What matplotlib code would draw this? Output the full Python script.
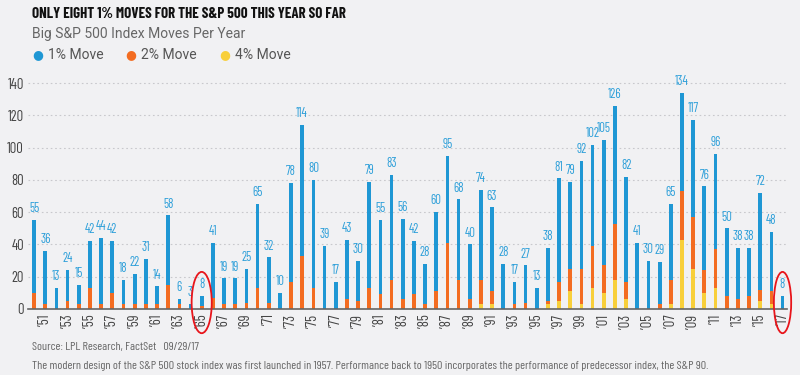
import numpy as np
import matplotlib
matplotlib.use('Agg')
import matplotlib.pyplot as plt
from matplotlib.patches import Ellipse

plt.rcParams['font.family'] = ['Barlow Condensed', 'DejaVu Sans']

# Datos: movimientos grandes del S&P 500 por año (1950-2017)
anios = np.arange(1950, 2018)
mov_1 = [55, 36, 13, 24, 15, 42, 44, 42, 18, 22, 31, 14, 58, 6, 3, 8, 41, 19, 19, 25,
         65, 32, 10, 78, 114, 80, 39, 17, 43, 30, 79, 55, 83, 56, 42, 28, 60, 95, 68, 40,
         74, 63, 28, 17, 27, 13, 38, 81, 79, 92, 102, 105, 126, 82, 41, 30, 29, 65, 134, 117,
         76, 96, 50, 38, 38, 72, 48, 8]
mov_2 = [10, 3, 0, 5, 3, 13, 3, 10, 3, 3, 3, 3, 15, 3, 0, 2, 7, 3, 3, 4,
         13, 4, 0, 17, 33, 13, 0, 0, 6, 5, 13, 9, 18, 6, 9, 3, 11, 41, 18, 6,
         18, 11, 0, 3, 4, 0, 5, 17, 25, 25, 39, 27, 53, 17, 0, 0, 3, 18, 73, 57,
         24, 37, 8, 6, 8, 12, 11, 0]
mov_4 = [0, 0, 0, 0, 0, 0, 0, 0, 0, 0, 0, 0, 0, 0, 0, 0, 0, 0, 0, 0,
         0, 0, 0, 0, 0, 0, 0, 0, 0, 0, 0, 0, 0, 0, 0, 0, 0, 0, 0, 0,
         3, 3, 0, 0, 0, 0, 3, 5, 11, 3, 13, 10, 18, 6, 0, 0, 0, 3, 43, 25,
         10, 13, 0, 0, 0, 5, 3, 0]
etiquetas = ["\u2019%02d" % (a % 100) for a in anios]

azul = '#1f97d4'
naranja = '#f36c21'
amarillo = '#f8cf3a'
fondo = '#f1f1f3'

fig = plt.figure(figsize=(8, 3.75), dpi=100, facecolor=fondo)
ax = fig.add_axes([28 / 800, 66 / 375, 759 / 800, 229 / 375], facecolor=fondo)

x = np.arange(len(anios))
ancho = 0.33
ax.bar(x, mov_1, width=ancho, color=azul, zorder=3)
ax.bar(x, mov_2, width=ancho, color=naranja, zorder=4)
ax.bar(x, mov_4, width=ancho, color=amarillo, zorder=5)

for xi, v in zip(x, mov_1):
    ax.text(xi, v + 3, str(v), ha='center', va='bottom', fontsize=9.2,
            color='#2d9fd9', zorder=6)

ax.set_xlim(-0.55, 67.4)
ax.set_ylim(0, 142)
ax.set_yticks(range(0, 141, 20))
ax.tick_params(axis='y', length=0, labelsize=10.5, labelcolor='#444444', pad=3)
ax.set_xticks(x[1::2])
ax.set_xticklabels(etiquetas[1::2], rotation=90, fontsize=10.5, color='#444444')
ax.tick_params(axis='x', length=0, pad=4)
ax.grid(axis='y', linestyle=(0, (1.5, 2.5)), color='#c8c8cc', linewidth=0.8, zorder=0)
for lado in ['top', 'right', 'left']:
    ax.spines[lado].set_visible(False)
ax.spines['bottom'].set_color('#666666')
ax.spines['bottom'].set_linewidth(1.2)
ax.spines['bottom'].set_zorder(7)

# Elipses rojas alrededor de 1965 y 2017
for idx, w in [(15, 1.8), (67, 1.55)]:
    ax.add_patch(Ellipse((idx, 4), w, 38, transform=ax.transData, fill=False,
                         edgecolor='#e8151b', linewidth=1.3, clip_on=False, zorder=8))

fig.text(32 / 800, 1 - 14 / 375, 'ONLY EIGHT 1% MOVES FOR THE S&P 500 THIS YEAR SO FAR',
         fontsize=10.8, fontweight='bold', color='#111111', va='center')
fig.text(32 / 800, 1 - 34 / 375, 'Big S&P 500 Index Moves Per Year',
         fontsize=10, color='#666666', va='center', family='Roboto')
for px, col, txt in [(38, azul, '1% Move'), (131, naranja, '2% Move'), (225, amarillo, '4% Move')]:
    fig.text(px / 800, 1 - 55 / 375, '\u25CF', fontsize=9, color=col, va='center', ha='center',
             family='DejaVu Sans')
    fig.text((px + 10) / 800, 1 - 55 / 375, txt, fontsize=10, color='#555555', va='center',
             family='Roboto')

fig.text(32 / 800, 1 - 347 / 375, 'Source: LPL Research, FactSet   09/29/17',
         fontsize=8.7, color='#666666', va='center')
fig.text(32 / 800, 1 - 366 / 375,
         'The modern design of the S&P 500 stock index was first launched in 1957. '
         'Performance back to 1950 incorporates the performance of predecessor index, the S&P 90.',
         fontsize=8.7, color='#666666', va='center')

fig.savefig('out.png', dpi=100, facecolor=fondo)
